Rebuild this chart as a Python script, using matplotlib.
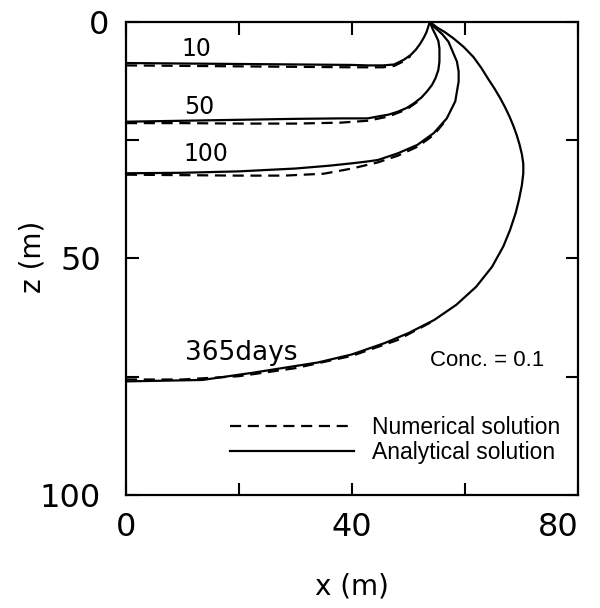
import matplotlib
matplotlib.use('Agg')
from matplotlib import pyplot as plt
from matplotlib.transforms import ScaledTranslation

# analytical solution contours (Conc. = 0.1), x (m) vs z (m)
x10 = [0, 10, 20, 30, 40, 42.8, 45.5, 47.5, 49.2, 50.4, 51.3, 52.1, 52.7, 53.2, 53.8]
z10 = [8.7, 8.8, 8.9, 9.0, 9.1, 9.2, 9.2, 9.0, 8.0, 7.0, 5.9, 4.6, 3.4, 2.2, 0.0]

x50 = [0, 10, 20, 30, 38, 42.8, 44.6, 46.5, 48.1, 49.7, 51.0, 52.3, 53.3, 54.2, 54.8,
       55.3, 55.5, 55.5, 55.3, 54.8, 54.3, 53.8]
z50 = [21.1, 20.9, 20.7, 20.5, 20.4, 20.4, 20.0, 19.6, 19.0, 18.2, 17.2, 16.0, 14.7, 13.3, 11.9,
       10.2, 8.4, 5.6, 4.0, 2.7, 1.5, 0.0]

x100 = [0, 10, 20, 30, 36, 40, 42.8, 44.6, 48.1, 51.6, 54.5, 56.8, 58.3, 58.9, 58.9, 58.6,
        57.1, 56.0, 54.5, 53.8]
z100 = [32, 31.9, 31.6, 31.0, 30.4, 29.9, 29.5, 29.2, 27.8, 26.0, 23.5, 20.4, 16.8, 12.6, 10.5, 8.4,
        4.2, 2.6, 1.0, 0.0]

x365 = [0, 13.5, 22.3, 34, 40, 45.8, 50, 54.6, 58.5, 62, 64.8, 66.8, 68.0, 69.0, 69.6,
        70.1, 70.35, 70.35, 70.1, 69.7, 69.2, 68.6, 67.9, 67.1, 66.2, 65.2, 64.1, 62.9, 61.5,
        59.8, 58.0, 56.5, 55.1, 53.8]
z365 = [76, 75.7, 74.2, 72, 70.3, 67.9, 65.8, 63, 59.8, 56, 51.8, 47.5, 44.0, 40.4, 37.5,
        34.5, 32.0, 30.0, 28.0, 26.0, 24.0, 22.0, 20.0, 18.0, 16.0, 14.0, 12.0, 9.7, 7.4,
        5.3, 3.5, 2.2, 1.2, 0.0]

# numerical solution contours
n10x = [0, 10, 20, 30, 40, 45.5, 47.5, 49.2, 50.4]
n10z = [9.2, 9.3, 9.4, 9.5, 9.6, 9.6, 9.3, 8.3, 7.2]

n50x = [0, 10, 20, 30, 38, 42.8, 46.5, 49.7, 52.3]
n50z = [21.4, 21.4, 21.5, 21.5, 21.3, 20.9, 20.0, 18.5, 16.3]

n100x = [0, 10, 20, 28, 35, 40, 44.6, 48.1, 51.6, 54.5, 56.3]
n100z = [32.3, 32.4, 32.5, 32.5, 32.1, 31.0, 29.7, 28.3, 26.4, 23.9, 21.3]

n365x = [0, 10, 20, 30, 40, 48, 54]
n365z = [75.6, 75.6, 74.9, 73.2, 70.6, 67.3, 63.5]

curve_labels = ['10', '50', '100', '365days']
label_pos = [(12.5, 5.7), (13.0, 18.0), (14.2, 27.9), (20.4, 70.0)]

xticks = [0, 20, 40, 60, 80]
xticklabels = ['0', '', '40', '', '80']
zticks = [0, 25, 50, 75, 100]
zticklabels = ['0', '', '50', '', '100']

fig = plt.figure(figsize=(6, 6.08), dpi=100)
ax = fig.add_axes([0.21, 0.186, 0.753, 0.778])

dash = (0, (5, 3))
lw = 1.6
num_line = None
ana_line = None
for nx, nz in [(n10x, n10z), (n50x, n50z), (n100x, n100z), (n365x, n365z)]:
    num_line, = ax.plot(nx, nz, color='black', lw=lw, linestyle=dash)
for cx, cz in [(x10, z10), (x50, z50), (x100, z100), (x365, z365)]:
    ana_line, = ax.plot(cx, cz, color='black', lw=lw)

for lab, (lx, lz) in zip(curve_labels, label_pos):
    fs = 19 if lab == '365days' else 17
    ax.text(lx, lz, lab, ha='center', va='center', fontsize=fs)

ax.text(64.0, 71.5, 'Conc. = 0.1', ha='center', va='center', fontsize=16,
        family='Liberation Sans')

ax.set_xlim(0, 80)
ax.set_ylim(100, 0)
ax.set_xticks(xticks)
ax.set_xticklabels(xticklabels)
ax.set_yticks(zticks)
ax.set_yticklabels(zticklabels)
ax.tick_params(direction='in', length=9, width=1.5, labelsize=23,
               top=True, right=True)
ax.tick_params(axis='x', pad=12)
ax.tick_params(axis='y', pad=18)
for sp in ax.spines.values():
    sp.set_linewidth(1.6)

# hand-lettered offsets of a few tick labels
ylabs = ax.get_yticklabels()
ylabs[0].set_transform(ylabs[0].get_transform() + ScaledTranslation(6 / 72, 0, fig.dpi_scale_trans))
xlabs = ax.get_xticklabels()
xlabs[4].set_transform(xlabs[4].get_transform() + ScaledTranslation(-14 / 72, 0, fig.dpi_scale_trans))

ax.set_xlabel('x (m)', fontsize=20)
ax.set_ylabel('z (m)', fontsize=20)
ax.xaxis.set_label_coords(0.5, -0.165)
ax.yaxis.set_label_coords(-0.175, 0.503)

ax.legend([num_line, ana_line], ['Numerical solution', 'Analytical solution'],
          loc='center left', bbox_to_anchor=(0.23, 0.116), frameon=False,
          handlelength=5.4, handletextpad=0.8, labelspacing=0.05,
          borderpad=0, borderaxespad=0,
          prop={'family': 'Liberation Sans', 'size': 16.5})

plt.savefig('out.png', dpi=100)
